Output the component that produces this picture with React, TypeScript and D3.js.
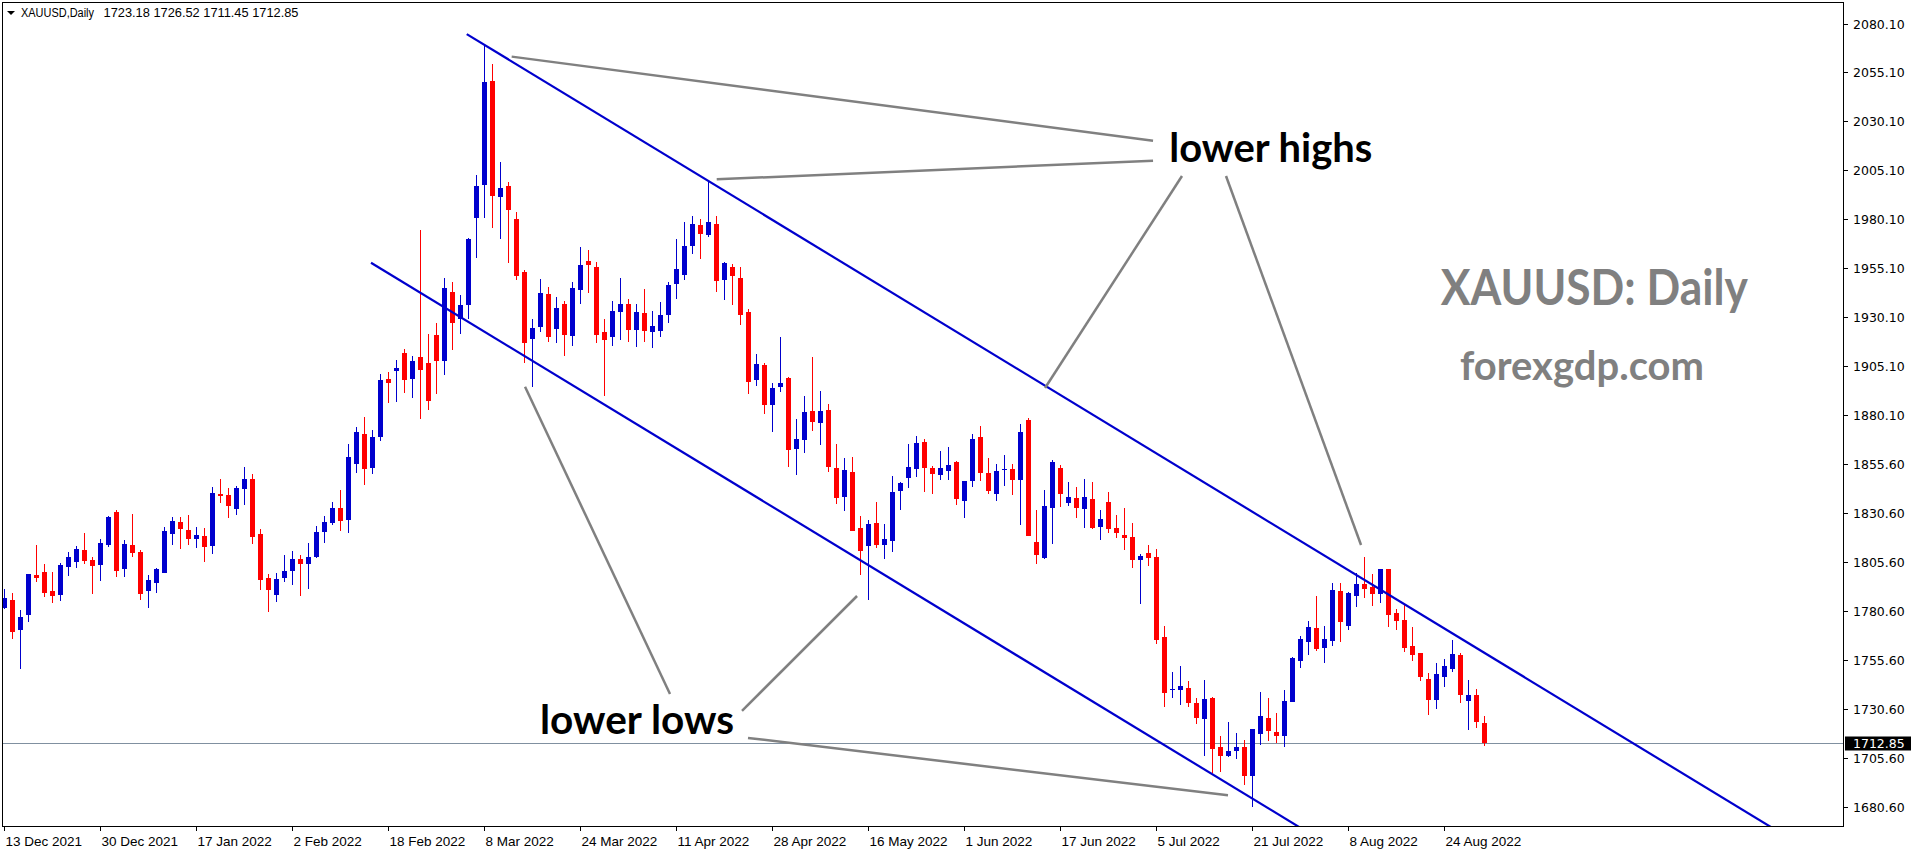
import React from 'react';
import * as d3 from 'd3';

// XAUUSD daily bars, 13 Dec 2021 .. 31 Aug 2022
const opens = [
  1781.7, 1786.0, 1770.7, 1778.5, 1798.7, 1800.3, 1790.6, 1788.7, 1803.0, 1805.5,
  1811.5, 1806.4, 1804.0, 1814.0, 1830.9, 1802.0, 1814.0, 1810.5, 1790.7, 1794.8,
  1799.9, 1819.8, 1825.8, 1821.7, 1817.3, 1818.6, 1813.7, 1840.0, 1839.5, 1832.6,
  1842.8, 1847.7, 1819.6, 1797.2, 1788.7, 1797.4, 1800.9, 1806.9, 1804.5, 1807.9,
  1820.7, 1825.3, 1832.9, 1826.8, 1855.5, 1870.7, 1853.5, 1869.3, 1898.7, 1903.0,
  1912.0, 1898.9, 1910.0, 1906.9, 1921.2, 1908.1, 1943.1, 1929.2, 1936.7, 1981.1,
  1997.9, 2050.8, 1991.8, 1997.2, 1980.4, 1953.4, 1919.3, 1925.5, 1942.0, 1924.4,
  1936.9, 1920.9, 1944.3, 1959.0, 1955.9, 1922.7, 1919.9, 1933.1, 1937.0, 1923.8,
  1932.4, 1922.7, 1923.3, 1931.4, 1947.2, 1951.8, 1966.6, 1977.3, 1972.2, 1977.8,
  1949.3, 1955.9, 1950.3, 1932.9, 1898.3, 1905.9, 1885.2, 1894.7, 1899.3, 1863.1,
  1867.7, 1882.4, 1876.4, 1882.9, 1853.3, 1838.7, 1851.2, 1822.7, 1813.7, 1825.2,
  1814.2, 1816.2, 1841.7, 1848.3, 1852.9, 1866.5, 1853.3, 1849.9, 1851.9, 1856.3,
  1836.6, 1846.8, 1869.1, 1850.7, 1840.2, 1852.3, 1852.8, 1847.3, 1877.8, 1815.5,
  1807.5, 1833.0, 1853.3, 1835.5, 1838.0, 1832.4, 1837.5, 1823.2, 1836.0, 1822.7,
  1819.1, 1818.1, 1806.4, 1809.9, 1807.9, 1767.1, 1739.9, 1740.1, 1741.1, 1733.4,
  1725.4, 1736.0, 1711.0, 1706.6, 1709.1, 1711.0, 1696.3, 1717.8, 1725.8, 1718.6,
  1716.8, 1733.9, 1755.0, 1764.7, 1771.7, 1761.7, 1765.2, 1790.6, 1772.9, 1788.2,
  1794.2, 1792.6, 1789.2, 1801.8, 1779.4, 1775.8, 1762.5, 1759.0, 1745.7, 1735.1,
  1746.9, 1751.0, 1757.9, 1734.6, 1737.5, 1723.18,
];
const highs = [
  1791.4, 1789.4, 1780.9, 1799.4, 1814.0, 1804.3, 1800.3, 1804.9, 1810.5, 1813.5,
  1820.2, 1807.9, 1817.1, 1828.7, 1831.9, 1816.6, 1829.9, 1811.5, 1798.7, 1802.3,
  1823.0, 1828.3, 1828.3, 1829.3, 1823.0, 1822.7, 1843.5, 1847.5, 1843.1, 1844.0,
  1853.7, 1850.3, 1822.0, 1799.2, 1799.6, 1808.9, 1811.0, 1808.9, 1815.0, 1823.7,
  1828.8, 1836.0, 1842.1, 1865.6, 1874.4, 1879.5, 1872.7, 1901.3, 1902.3, 1908.4,
  1914.0, 1910.5, 1974.8, 1921.7, 1927.1, 1950.3, 1948.2, 1941.6, 1970.5, 2002.8,
  2069.1, 2059.5, 2009.5, 1999.3, 1984.0, 1954.4, 1929.2, 1949.8, 1945.7, 1940.8,
  1938.4, 1948.3, 1965.9, 1964.6, 1958.5, 1929.4, 1938.6, 1950.0, 1939.6, 1937.0,
  1944.7, 1933.5, 1938.1, 1948.3, 1970.2, 1978.9, 1981.9, 1980.4, 2000.3, 1981.9,
  1958.5, 1957.4, 1955.9, 1934.5, 1911.5, 1906.9, 1896.7, 1920.2, 1899.8, 1878.3,
  1890.0, 1909.9, 1892.6, 1885.9, 1865.5, 1858.4, 1858.9, 1828.8, 1826.7, 1836.0,
  1824.7, 1849.2, 1846.1, 1865.5, 1869.6, 1868.1, 1854.3, 1862.0, 1864.0, 1856.9,
  1846.8, 1870.6, 1874.7, 1858.4, 1855.3, 1859.9, 1855.3, 1875.7, 1878.8, 1832.0,
  1842.1, 1857.4, 1855.0, 1846.2, 1843.6, 1847.7, 1846.2, 1831.9, 1841.1, 1829.3,
  1832.9, 1825.3, 1809.4, 1814.0, 1812.0, 1772.7, 1749.2, 1752.3, 1744.6, 1736.0,
  1745.2, 1736.5, 1716.6, 1723.7, 1718.1, 1714.5, 1720.1, 1739.0, 1736.0, 1728.3,
  1740.1, 1756.9, 1767.6, 1775.3, 1788.0, 1772.7, 1794.7, 1794.7, 1790.1, 1799.8,
  1807.9, 1799.3, 1801.8, 1801.8, 1781.4, 1784.1, 1772.2, 1759.0, 1748.7, 1753.8,
  1755.9, 1765.6, 1759.0, 1745.3, 1740.6, 1726.52,
];
const lows = [
  1781.2, 1766.1, 1750.8, 1774.9, 1795.3, 1787.7, 1784.6, 1785.6, 1798.4, 1802.5,
  1804.5, 1789.2, 1795.8, 1813.2, 1797.9, 1797.9, 1808.1, 1786.1, 1782.1, 1789.7,
  1799.5, 1814.0, 1812.2, 1814.0, 1812.7, 1805.5, 1809.6, 1835.6, 1828.0, 1829.5,
  1834.6, 1814.7, 1791.1, 1780.0, 1785.0, 1795.3, 1793.6, 1788.2, 1791.7, 1807.4,
  1815.2, 1824.2, 1821.2, 1820.2, 1850.6, 1844.5, 1850.1, 1867.3, 1886.3, 1887.2,
  1891.4, 1889.2, 1878.2, 1882.8, 1890.9, 1900.9, 1913.7, 1921.9, 1929.5, 1960.6,
  1981.1, 1976.0, 1970.2, 1958.1, 1949.4, 1906.8, 1894.8, 1922.7, 1917.6, 1917.3,
  1910.7, 1915.3, 1937.2, 1942.8, 1917.0, 1889.8, 1915.8, 1918.7, 1917.6, 1915.1,
  1917.6, 1914.6, 1920.2, 1927.3, 1939.6, 1949.3, 1962.5, 1960.0, 1971.2, 1943.2,
  1939.1, 1936.5, 1926.3, 1891.1, 1895.2, 1880.9, 1871.9, 1892.1, 1854.0, 1849.9,
  1861.1, 1872.3, 1865.2, 1851.4, 1835.1, 1831.5, 1821.0, 1798.9, 1786.1, 1812.6,
  1807.0, 1810.6, 1832.0, 1843.2, 1848.9, 1841.2, 1840.2, 1847.3, 1847.3, 1834.6,
  1828.0, 1843.8, 1846.8, 1840.2, 1836.6, 1844.3, 1839.7, 1824.4, 1818.6, 1804.5,
  1807.0, 1814.6, 1833.4, 1833.9, 1827.8, 1822.7, 1822.0, 1816.6, 1820.2, 1817.6,
  1811.5, 1802.3, 1783.9, 1803.3, 1763.5, 1731.4, 1736.0, 1732.4, 1731.2, 1722.7,
  1706.6, 1697.9, 1698.4, 1706.0, 1705.0, 1691.8, 1680.5, 1712.2, 1714.2, 1713.2,
  1711.1, 1733.9, 1751.4, 1758.1, 1760.1, 1754.0, 1762.7, 1764.7, 1770.9, 1782.6,
  1787.2, 1783.1, 1784.6, 1772.4, 1770.9, 1759.6, 1755.0, 1744.8, 1727.5, 1730.5,
  1741.8, 1749.4, 1733.6, 1719.8, 1720.9, 1711.45,
];
const closes = [
  1786.8, 1769.8, 1777.3, 1799.2, 1797.4, 1789.7, 1788.2, 1803.8, 1807.9, 1812.0,
  1806.0, 1803.5, 1815.0, 1828.3, 1800.9, 1814.5, 1810.1, 1789.2, 1796.2, 1801.8,
  1821.2, 1826.3, 1822.4, 1817.3, 1819.1, 1813.2, 1840.7, 1839.2, 1834.1, 1843.1,
  1847.7, 1818.1, 1796.3, 1791.2, 1796.7, 1800.8, 1806.9, 1804.5, 1807.9, 1820.7,
  1825.8, 1832.9, 1826.3, 1858.9, 1871.7, 1853.0, 1869.2, 1898.2, 1896.9, 1904.4,
  1898.4, 1907.9, 1903.5, 1887.7, 1908.1, 1945.2, 1927.5, 1936.5, 1970.0, 1997.2,
  2050.3, 1992.3, 1996.2, 1985.0, 1951.5, 1917.3, 1924.6, 1942.5, 1920.4, 1934.8,
  1921.4, 1945.0, 1956.8, 1957.1, 1921.4, 1918.8, 1933.5, 1937.0, 1923.8, 1932.8,
  1923.3, 1925.8, 1931.4, 1946.7, 1954.9, 1966.6, 1977.8, 1972.7, 1978.9, 1948.8,
  1958.0, 1951.3, 1931.4, 1897.4, 1906.4, 1885.2, 1894.2, 1896.7, 1862.7, 1868.1,
  1881.9, 1876.9, 1882.4, 1854.0, 1838.1, 1852.3, 1821.3, 1811.1, 1824.7, 1814.2,
  1817.1, 1841.0, 1845.6, 1853.8, 1866.0, 1853.4, 1850.4, 1853.3, 1854.8, 1837.6,
  1846.6, 1868.1, 1850.9, 1841.7, 1851.7, 1852.8, 1847.3, 1871.6, 1818.8, 1809.1,
  1833.9, 1856.4, 1840.0, 1838.5, 1832.9, 1838.5, 1822.5, 1827.3, 1822.4, 1820.2,
  1817.6, 1806.5, 1808.4, 1807.4, 1765.7, 1738.5, 1740.4, 1742.1, 1733.4, 1725.9,
  1735.5, 1710.1, 1706.6, 1708.8, 1711.0, 1696.3, 1720.1, 1726.8, 1719.3, 1716.8,
  1734.4, 1756.4, 1766.1, 1772.2, 1761.1, 1766.1, 1791.1, 1774.9, 1789.6, 1794.2,
  1791.8, 1789.2, 1801.8, 1778.5, 1775.4, 1761.7, 1758.1, 1746.9, 1735.1, 1748.2,
  1752.3, 1758.4, 1737.7, 1737.5, 1723.9, 1712.85,
];

const priceTicks = [
  2080.1, 2055.1, 2030.1, 2005.1, 1980.1, 1955.1, 1930.1, 1905.1, 1880.1,
  1855.6, 1830.6, 1805.6, 1780.6, 1755.6, 1730.6, 1705.6, 1680.6,
];
const dateTickBars = [0, 12, 24, 36, 48, 60, 72, 84, 96, 108, 120, 132, 144, 156, 168, 180];
const dateTickLabels = [
  '13 Dec 2021', '30 Dec 2021', '17 Jan 2022', '2 Feb 2022', '18 Feb 2022', '8 Mar 2022',
  '24 Mar 2022', '11 Apr 2022', '28 Apr 2022', '16 May 2022', '1 Jun 2022', '17 Jun 2022',
  '5 Jul 2022', '21 Jul 2022', '8 Aug 2022', '24 Aug 2022',
];

// annotations in (bar index, price)
const channelLines: [number, number][][] = [
  [[57.84, 2074.7], [222, 1667.3]],
  [[45.875, 1958.06], [170, 1650.0]],
];
const pointerLines: [number, number][][] = [
  [[63.46, 2063.2], [143.63, 2020.3]],
  [[89.09, 2000.6], [143.63, 2010.1]],
  [[130.13, 1894.1], [147.25, 2002.3]],
  [[152.75, 2002.3], [169.63, 1814.0]],
  [[65.13, 1894.8], [83.25, 1738.0]],
  [[92.25, 1729.4], [106.63, 1788.0]],
  [[93.0, 1715.6], [153.0, 1686.3]],
];
const notes = [
  { text: 'lower highs', at: [145.66, 2009.6], size: 40, len: 203, color: '#000' },
  { text: 'lower lows', at: [67.0, 1717.6], size: 40, len: 194, color: '#000' },
  { text: 'XAUUSD: Daily', at: [179.6, 1936.5], size: 50, len: 307, color: '#808080' },
  { text: 'forexgdp.com', at: [182.0, 1898.2], size: 40, len: 244, color: '#808080' },
];

const W = 1916;
const H = 850;
const left = 2;
const top = 2;
const right = 1843;
const bottom = 826;

const BLUE = '#0000cd';
const RED = '#ff0000';

export default function App() {
  const x = d3.scaleLinear().domain([0, 1]).range([4, 12]);
  const y = d3.scaleLinear().domain([1680.6, 2080.1]).range([806.5, 23.5]);

  const line = d3.line<[number, number]>()
    .x((d) => x(d[0]))
    .y((d) => y(d[1]));

  const last = opens.length - 1;
  const lastClose = closes[last];
  const yLast = Math.round(y(lastClose)) + 0.5;

  return (
    <svg
      width={W}
      height={H}
      style={{ position: 'fixed', left: 0, top: 0, background: '#fff' }}
      fontFamily="'DejaVu Sans', sans-serif"
    >
      <defs>
        <clipPath id="plot">
          <rect x={left} y={top} width={right - left} height={bottom - top} />
        </clipPath>
      </defs>
      <rect x={0} y={0} width={W} height={H} fill="#fff" />

      {/* current price line */}
      <line x1={left} x2={right} y1={yLast} y2={yLast} stroke="#8090a0" strokeWidth={1} />

      <g clipPath="url(#plot)">
        {opens.map((o, i) => {
          const c = closes[i];
          const cx = Math.round(x(i));
          const up = c >= o;
          const color = up ? BLUE : RED;
          const yh = Math.round(y(highs[i]));
          const yl = Math.round(y(lows[i]));
          const yt = Math.round(y(Math.max(o, c)));
          const yb = Math.round(y(Math.min(o, c)));
          return (
            <g key={i} fill={color} shapeRendering="crispEdges">
              <rect x={cx} y={yh} width={1} height={Math.max(1, yl - yh)} />
              <rect x={cx - 2} y={yt} width={5} height={Math.max(1, yb - yt)} />
            </g>
          );
        })}

        {channelLines.map((pts, i) => (
          <path key={'ch' + i} d={line(pts) || ''} stroke={BLUE} strokeWidth={2.2} fill="none" />
        ))}
        {pointerLines.map((pts, i) => (
          <path key={'pl' + i} d={line(pts) || ''} stroke="#808080" strokeWidth={2.5} fill="none" />
        ))}
      </g>

      {notes.map((n) => (
        <text
          key={n.text}
          x={x(n.at[0])}
          y={y(n.at[1])}
          fontFamily="Lato, 'Open Sans', sans-serif"
          fontWeight="bold"
          fontSize={n.size}
          fill={n.color}
          textLength={n.len}
          lengthAdjust="spacingAndGlyphs"
        >
          {n.text}
        </text>
      ))}

      {/* frame */}
      <g stroke="#000" strokeWidth={1} shapeRendering="crispEdges">
        <line x1={left + 0.5} x2={left + 0.5} y1={top} y2={bottom + 0.5} />
        <line x1={left} x2={right + 0.5} y1={top + 0.5} y2={top + 0.5} />
        <line x1={right + 0.5} x2={right + 0.5} y1={top} y2={bottom + 0.5} />
        <line x1={left} x2={right + 0.5} y1={bottom + 0.5} y2={bottom + 0.5} />
      </g>

      {/* price axis */}
      {priceTicks.map((p) => {
        const py = Math.round(y(p)) + 0.5;
        return (
          <g key={p}>
            <line x1={right} x2={right + 5} y1={py} y2={py} stroke="#000" shapeRendering="crispEdges" />
            <text x={1853} y={py} dy="0.36em" fontSize={12.5} fill="#000">
              {p.toFixed(2)}
            </text>
          </g>
        );
      })}
      <rect x={right + 2} y={yLast - 7} width={66} height={14} fill="#000" />
      <text x={1853} y={yLast} dy="0.36em" fontSize={12.5} fill="#fff">
        {lastClose.toFixed(2)}
      </text>

      {/* time axis */}
      {dateTickBars.map((b, i) => {
        const tx = Math.round(x(b)) + 0.5;
        return (
          <g key={b}>
            <line x1={tx} x2={tx} y1={bottom} y2={bottom + 5} stroke="#000" shapeRendering="crispEdges" />
            <text x={tx + 1} y={846} fontSize={13.5} fontFamily="'Liberation Sans', Arial, sans-serif" fill="#000">
              {dateTickLabels[i]}
            </text>
          </g>
        );
      })}

      {/* header */}
      <path d="M7,11 L15,11 L11,15 Z" fill="#000" />
      <text x={21} y={17} fontSize={12} fontFamily="'Liberation Sans', Arial, sans-serif" fill="#000" textLength={73} lengthAdjust="spacingAndGlyphs">
        XAUUSD,Daily
      </text>
      <text x={103.5} y={17} fontSize={12} fontFamily="'Liberation Sans', Arial, sans-serif" fill="#000" textLength={195} lengthAdjust="spacingAndGlyphs">
        {[opens[last], highs[last], lows[last], closes[last]].map((v) => v.toFixed(2)).join(' ')}
      </text>
    </svg>
  );
}
